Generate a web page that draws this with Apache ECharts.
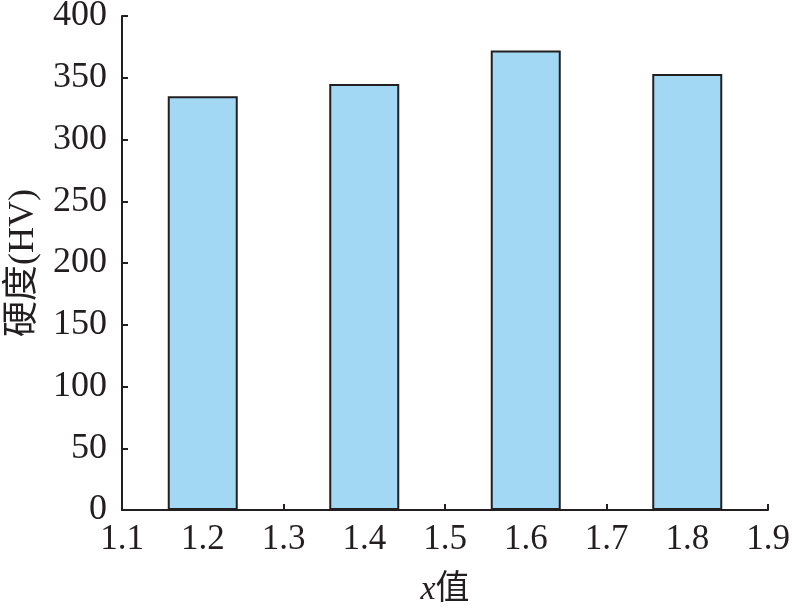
<!DOCTYPE html>
<html>
<head>
<meta charset="utf-8">
<script src="https://cdn.jsdelivr.net/npm/echarts@6/dist/echarts.min.js"></script>
<style>html,body{margin:0;padding:0;background:#fff}#c{width:792px;height:608px}</style>
</head>
<body>
<div id="c"></div>
<script>
var xPositions = [1.2, 1.4, 1.6, 1.8];
var hardness = [335, 345, 372, 353];
var xAxisName = '{i|x}值';
var yAxisName = '硬度(HV)';

var FONT = "'Liberation Serif', 'Times New Roman', 'Noto Sans CJK SC', serif";
var chart = echarts.init(document.getElementById('c'), null, {renderer: 'canvas'});
chart.setOption({
  animation: false,
  backgroundColor: '#ffffff',
  grid: {left: 122, right: 24, top: 16, bottom: 98, containLabel: false, outerBoundsMode: 'none'},
  xAxis: {
    type: 'value', min: 1.1, max: 1.9, interval: 0.1,
    name: xAxisName, nameLocation: 'middle', nameGap: 63,
    nameTextStyle: {fontFamily: FONT, fontSize: 34, color: '#231f20',
      rich: {i: {fontFamily: FONT, fontSize: 34, fontStyle: 'italic', color: '#231f20'}}},
    axisLine: {show: true, lineStyle: {color: '#231f20', width: 2}},
    axisTick: {show: true, inside: true, length: 6, lineStyle: {color: '#231f20', width: 2}},
    axisLabel: {fontFamily: FONT, fontSize: 35, color: '#231f20', margin: 12,
      formatter: function (v) { return v.toFixed(1); }},
    splitLine: {show: false}
  },
  yAxis: {
    type: 'value', min: 0, max: 400, interval: 50,
    name: yAxisName, nameLocation: 'middle', nameGap: 80, nameRotate: 90,
    nameTextStyle: {fontFamily: FONT, fontSize: 36, color: '#231f20'},
    axisLine: {show: true, lineStyle: {color: '#231f20', width: 2}},
    axisTick: {show: true, inside: true, length: 6, lineStyle: {color: '#231f20', width: 2}},
    axisLabel: {fontFamily: FONT, fontSize: 36, color: '#231f20', margin: 15},
    splitLine: {show: false}
  },
  series: [{
    type: 'bar',
    data: xPositions.map(function (x, i) { return [x, hardness[i]]; }),
    barWidth: 70,
    itemStyle: {color: '#a2d8f4', borderColor: '#231f20', borderWidth: 2},
    z: 1
  }]
});
</script>
</body>
</html>
